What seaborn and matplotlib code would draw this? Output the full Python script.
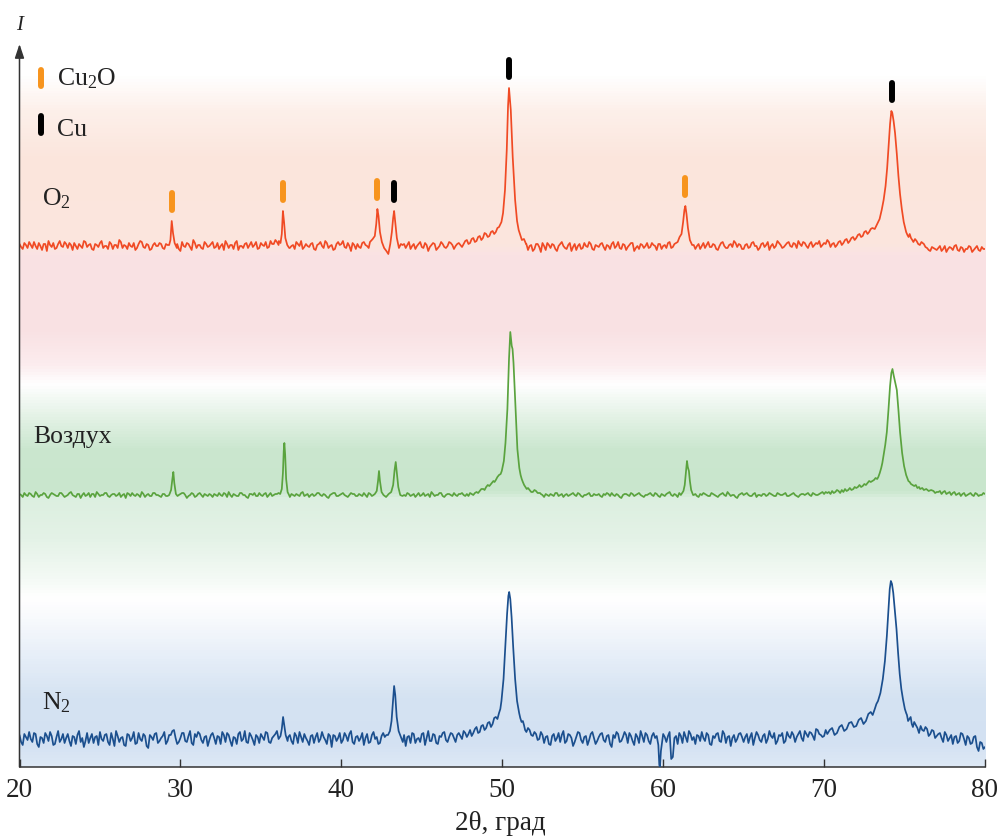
import numpy as np
import pandas as pd
import seaborn as sns
import matplotlib
matplotlib.use("Agg")
import matplotlib.pyplot as plt
from matplotlib.colors import LinearSegmentedColormap

# baseline noise (pixels above each trace's own baseline)
# *_NOISE: one value per 0.2 deg at 20.0, 20.2 ... 80.0
# *_NOISE_MID: the points in between, at 20.1, 20.3 ... 79.9
O2_NOISE = [
    2, -3, 1, 4, -2, 0, 3, -4, 2, 5, -1, -3, 2, 0, 4,
    -2, 1, 3, -3, 0, 5, -1, 2, -4, 1, 3, -2, 0, 4, -3,
    1, 6, -2, 0, 3, -1, -4, 2, 4, -2, 1, -3, 3, 0, 2,
    -3, 1, 4, -2, 2, -5, 0, 3, -1, 6, -2, 1, -3, 2, 0,
    4, -1, -3, 2, 5, -2, 1, 3, -4, 0, 2, -2, 4, 1, -3,
    3, 0, -2, 5, 2, 4, -1, 3, 6, -2, 1, 4, 0, -3, 2,
    -1, 3, -4, 2, 0, 5, -2, 1, -3, 4, 2, -1, 3, -5, 1,
    2, -2, 4, 0, -3, 3, 1, -1, 5, -2, 2, 0, -4, 3, 1,
    -2, 4, 0, -3, 2, -1, 3, -5, 1, 2, -2, 4, -1, 0, 3,
    -3, 2, 1, 5, -1, 4, 2, 6, 3, 1, 7, 4, 8, 5, 9,
    10, 20, 60, 30, 10, 4, -2, 3, -4, 1, -3, 2, -6, 0, 3,
    -2, 1, -5, 2, 0, -3, 3, -1, -4, 2, -2, 0, 4, -3, 1,
    -1, 3, -4, 0, 2, -2, 4, -3, 1, -1, 3, -5, 0, 2, -2,
    3, -1, 1, -4, 2, 0, -2, 4, -1, 3, 5, 20, 10, 2, -1,
    -3, 2, 0, -2, 4, -1, 1, -4, 3, 0, -2, 2, 5, -1, 1,
    -3, 2, -1, 4, 0, -2, 3, 1, -4, 2, 0, 3, -2, 1, 4,
    -1, 2, 5, 0, 3, -2, 4, 1, 2, -1, 3, 6, 2, 4, 3,
    5, 3, 7, 4, 8, 6, 10, 12, 9, 14, 18, 22, 30, 50, 80,
    120, 130, 80, 40, 15, 8, 3, 1, -2, -4, 0, -3, 1, -5, -2,
    -4, 0, -3, -6, -1, -4, 1, -5, -2, -3, 0, -6, -2, -4, -1,
    -3,
]
O2_NOISE_MID = [
    -1, 3, -2, 1, 4, -3, 0, 2, -5, 1, 3, -2, 5, -1, 2,
    3, -4, 0, 2, -2, 4, 1, -3, 2, -1, 5, 0, -3, 2, 1,
    -2, 4, 1, -3, 0, 3, -2, 5, -1, 2, -4, 1, 0, 3, -2,
    2, 0, 1, 3, -3, 4, -1, 2, -4, 3, 1, -2, 4, -1, 2,
    -2, 3, 0, -4, 2, 1, -3, 5, 0, -2, 3, 1, -1, 4, -2,
    1, 4, -1, 2, 6, 1, 3, -2, 2, 0, -3, 2, 5, -1, 0,
    2, -3, 1, 4, -2, 3, 0, -4, 2, 1, 5, -2, 0, 3, -3,
    -1, 3, 1, -2, 2, 4, -1, 3, 0, 2, -3, 1, 3, -2, 2,
    1, -3, 2, 0, 4, -2, 1, -1, 3, -4, 0, 2, -2, 4, 1,
    0, 3, -1, 4, 2, 6, 3, 8, 5, 7, 10, 9, 12, 11, 20,
    40, 120, 50, 15, 6, 1, -3, 2, 0, -5, 2, -1, 3, -4, 1,
    2, -3, 0, 4, -2, 1, -5, 2, 0, -3, 3, -1, 2, -4, 0,
    2, -1, 1, -3, 4, 0, -2, 2, -4, 1, 3, -2, -3, 1, 0,
    -2, 3, 0, 2, -3, 1, 3, -2, 2, 0, 8, 30, 25, 3, 1,
    0, -3, 3, 1, -1, 2, -3, 0, 4, -2, 1, -1, 3, 2, -3,
    1, -2, 3, 0, -4, 2, -1, 4, 0, -2, 5, 1, -1, 3, 0,
    3, -2, 2, 4, 0, 2, -1, 3, 5, 1, 2, 4, 1, 3, 5,
    4, 6, 5, 9, 7, 8, 11, 10, 13, 16, 20, 26, 40, 65, 100,
    128, 110, 60, 25, 10, 5, 2, -1, 0, -3, -2, 1, -4, -1, -3,
    -2, -5, 0, -3, -2, 0, -4, -1, -6, -3, -1, -4, 0, -5, -3,
]

AIR_NOISE = [
    1, -2, 0, 2, -1, 3, -2, 0, 1, -3, 2, 0, -1, 2, -2,
    0, 3, -1, 1, -3, 2, 0, -2, 1, 3, -1, 0, 2, -2, 1,
    -1, 2, 0, -3, 1, 2, -1, 0, 3, -2, 1, -1, 2, 0, -2,
    1, -1, 3, 0, -2, 1, 2, -3, 0, 1, -1, 2, -2, 0, 1,
    -2, 0, 2, -1, 1, 3, -2, 0, -1, 2, 0, -3, 1, 2, -1,
    0, 1, -2, 2, 0, 1, 3, -1, 2, -2, 0, 1, -1, 3, 0,
    -2, 1, 0, 2, -1, 0, -3, 1, 2, -1, 1, 0, -2, 2, 1,
    -1, 0, 2, -2, 1, 0, 3, 1, -1, 2, 0, -2, 1, 0, 2,
    -1, 1, 0, -2, 2, 0, -1, 1, 3, -1, 0, 2, -2, 1, 0,
    2, -1, 1, 0, 3, 2, 4, 3, 6, 8, 11, 14, 18, 20, 24,
    40, 150, 100, 30, 12, 6, 4, 3, 1, 2, -1, 0, 1, -2, 0,
    1, -1, 2, 0, -2, 1, 0, 2, -1, 1, -2, 0, 2, -1, 0,
    1, -2, 0, 1, 2, -1, 0, -3, 1, 0, 2, -1, 1, 0, -2,
    0, 2, -1, 1, -2, 0, 1, 3, -1, 0, 2, 20, 10, 0, -1,
    1, -2, 0, 1, -1, 2, 0, -2, 1, 0, 3, -1, 0, -3, 1,
    0, 2, -1, 1, -2, 0, 1, -1, 2, 0, -1, 1, 0, 2, -1,
    1, 0, -2, 1, 0, 2, -1, 1, 0, 2, 3, 2, 4, 3, 5,
    4, 6, 5, 7, 8, 9, 11, 13, 16, 20, 28, 40, 60, 90, 120,
    110, 125, 70, 30, 14, 10, 8, 6, 7, 5, 6, 4, 5, 3, 4,
    2, 4, 3, 1, 3, 2, 0, 2, 1, -1, 1, 0, 2, -1, 0,
    1,
]
AIR_NOISE_MID = [
    0, 2, -1, 1, -2, 1, 0, 2, -2, 0, 1, -1, 2, 0, -1,
    2, 0, -2, 1, 0, -1, 2, 1, -2, 1, 0, 2, -1, 0, 1,
    0, -2, 1, 2, -1, 0, 1, -2, 1, 0, -1, 2, 0, -1, 1,
    -1, 2, 1, -1, 0, 2, 0, -1, 2, -2, 1, 0, 1, -1, 0,
    1, -1, 0, 2, -2, 0, 1, -1, 2, 0, -2, 1, 0, -1, 2,
    -1, 2, 0, -1, 1, 2, -1, 1, 0, 1, -1, 0, 2, -1, 1,
    0, -1, 2, 0, 1, -2, 0, 2, -1, 0, 2, -1, 0, 1, -1,
    1, -1, 0, 2, -1, 1, 2, -1, 0, 1, -2, 0, 2, -1, 0,
    2, -1, 1, 0, -1, 2, 0, -2, 1, 0, 2, -1, 0, 1, -1,
    0, 1, 2, -1, 2, 3, 2, 5, 4, 7, 9, 12, 15, 19, 22,
    90, 160, 60, 18, 8, 5, 3, 2, 3, 0, 1, -1, 0, 1, -1,
    0, 2, -1, 1, 0, -1, 1, 0, 2, -1, 0, 1, -1, 1, 0,
    -1, 1, 2, -1, 0, 1, -2, 0, 1, -1, 1, 0, 2, -1, 0,
    1, 0, 2, -1, 1, -1, 2, 0, 1, -2, 0, 30, 2, 1, 0,
    -1, 1, 2, 0, -1, 1, -1, 0, 2, -1, 1, 0, -2, 0, 2,
    1, 0, -1, 2, 0, -1, 1, 0, 1, -1, 2, 0, 1, -1, 0,
    2, -1, 0, 1, 1, 0, 2, 0, 1, 3, 2, 3, 4, 4, 5,
    5, 6, 6, 8, 9, 10, 12, 15, 18, 24, 33, 50, 75, 105, 125,
    120, 100, 50, 20, 12, 9, 7, 6, 6, 5, 5, 4, 4, 3, 3,
    3, 1, 4, 2, 0, 3, 1, -1, 2, 0, 2, -1, 1, 0, 2,
]

N2_NOISE = [
    4, -6, 2, 7, -3, 5, -8, 1, 6, -2, 3, -5, 8, 0, -4,
    5, -7, 2, 4, -3, -8, 6, 1, -4, 3, 7, -2, 5, -6, 0,
    8, -3, 2, -7, 4, 1, -5, 6, -2, 3, -9, 2, 5, -4, 1,
    7, -2, 4, 9, -5, 1, 6, -3, 8, -6, 2, 5, -4, 3, -1,
    6, -5, 2, 7, -3, 4, -7, 1, 5, -2, 8, -4, 3, -6, 2,
    5, -1, 6, -4, 3, 8, -2, 0, 3, 4, -5, 3, 7, -3, 1,
    -6, 4, 2, -3, 7, -1, 5, -8, 3, 1, -4, 6, -2, 8, -5,
    3, 1, -6, 5, -3, 7, 2, -4, 6, 4, 12, 40, 30, 5, -2,
    -7, 3, 6, -4, 1, 5, -6, 8, -2, 4, -5, 2, 7, -3, 6,
    1, 4, -2, 5, 8, 3, 7, 10, 6, 12, 11, 15, 18, 16, 24,
    45, 140, 80, 30, 12, 7, 3, 6, -2, 4, -5, 2, 7, -4, 3,
    -6, 5, 1, -3, 8, -2, 4, -7, 2, 6, -4, 3, -1, 7, -5,
    2, 6, -3, 4, -8, 1, 5, -2, 7, -4, 3, -6, 2, 8, -3,
    4, -5, 6, -2, 1, 5, -3, 7, -18, 3, 6, -4, 2, 8, -1,
    -5, 3, 7, -2, 4, -6, 1, 6, -3, 5, 2, -7, 4, 0, 6,
    -3, 5, 2, -6, 7, -1, 3, -4, 8, 1, -5, 4, 6, -2, 3,
    7, -3, 5, 1, 8, 2, 6, -1, 9, 4, 3, 8, 5, 11, 7,
    12, 9, 15, 11, 18, 14, 20, 17, 24, 22, 28, 30, 38, 55, 95,
    140, 150, 110, 65, 40, 25, 20, 14, 16, 10, 12, 6, 9, 4, 7,
    2, 6, -3, 4, 1, -5, 3, -2, 5, -6, 1, -4, 3, -12, -4,
    -8,
]
N2_NOISE_MID = [
    -3, 5, -1, 0, 6, -5, 2, -4, 3, 7, -6, 2, -3, 5, 1,
    -2, 3, -5, 8, 1, -2, -4, 5, 2, -6, 0, 4, -3, 6, -7,
    3, 1, -6, 5, -2, 7, -4, 0, 5, -7, 4, -1, 6, -2, 3,
    -5, 4, 8, 1, -3, 6, -2, 3, -4, 5, 7, -1, 2, -7, 4,
    1, 3, -5, 4, 6, -2, 2, -5, 7, 0, -3, 6, -1, 4, -4,
    2, 7, -3, 1, 5, -1, 4, 3, 2, -2, 6, -4, 2, 5, -2,
    3, -4, 6, 0, 2, -5, 3, 4, -2, 6, -1, 3, 5, -3, 2,
    -2, 6, 1, -4, 4, 0, -5, 3, 2, 7, 25, 50, 10, -1, 4,
    2, -4, 5, 0, -3, 6, 1, -2, 5, -4, 3, 6, -1, 2, 5,
    -3, 6, 2, 4, 1, 9, 5, 8, 11, 9, 14, 13, 20, 19, 30,
    90, 120, 50, 18, 9, 4, 8, 1, 5, -3, 6, -1, 4, 2, -5,
    3, -2, 6, 4, -4, 5, 1, -3, 7, -1, 2, -6, 5, 1, -2,
    5, -1, 3, -5, 4, 7, -3, 2, 4, 6, -2, 5, -4, 3, 6,
    -2, 3, 1, 5, -8, 2, 3, -20, 1, -5, 3, 7, -3, 5, 2,
    4, -2, 1, 6, -5, 3, 5, -2, 8, -4, 3, 1, -3, 5, 2,
    2, -4, 6, 1, 4, -3, 5, 0, 3, 6, -2, 3, -4, 7, 1,
    4, 2, 8, -2, 5, 7, 3, 10, 5, 2, 9, 6, 12, 8, 13,
    10, 16, 12, 17, 15, 22, 18, 26, 25, 33, 34, 45, 70, 120, 145,
    155, 130, 85, 50, 30, 22, 17, 18, 12, 14, 8, 11, 6, 8, 3,
    5, 1, 7, -2, 4, 2, -4, 6, 0, 3, -5, 2, -8, -3, -10,
]

# peak profiles (2theta, height above baseline), replace the noise inside them
O2_PEAKS = [
    [(29.3, 1), (29.38, 6), (29.46, 25), (29.54, 13), (29.64, 3), (29.78, -2)],
    [(36.12, 5), (36.22, 3), (36.3, 12), (36.37, 35), (36.44, 24), (36.52, 8),
     (36.64, 1), (36.76, -2)],
    [(41.78, 4), (41.95, 7), (42.08, 10), (42.17, 22), (42.24, 37), (42.31, 30),
     (42.4, 14), (42.52, 4), (42.66, -2), (42.8, -5), (42.92, -8), (43.04, 2),
     (43.14, 14), (43.22, 28), (43.28, 35), (43.35, 24), (43.45, 8), (43.58, -2),
     (43.7, 2)],
    [(47.6, 2), (47.7, 5), (47.8, 6), (47.9, 2), (48.0, 3), (48.1, 7), (48.2, 8),
     (48.3, 4), (48.4, 5), (48.5, 9), (48.6, 10), (48.7, 6), (48.8, 8),
     (48.9, 13), (49.0, 12), (49.1, 9), (49.2, 10), (49.3, 14), (49.4, 15),
     (49.5, 12), (49.6, 14), (49.7, 18), (49.8, 19), (49.95, 24),
     (50.05, 33), (50.17, 56), (50.28, 96), (50.36, 140), (50.42, 158),
     (50.47, 148), (50.53, 136), (50.65, 89), (50.8, 46), (50.92, 25),
     (51.02, 16), (51.12, 11), (51.22, 6), (51.35, 7), (51.48, 2)],
    [(60.9, 4), (61.02, 9), (61.14, 12), (61.24, 24), (61.32, 36), (61.38, 40),
     (61.45, 32), (61.54, 18), (61.66, 6), (61.8, 1)],
    [(70.4, -1), (70.5, 2), (70.6, 3), (70.7, -1), (70.8, 1), (70.9, 4),
     (71.0, 5), (71.1, 1), (71.2, 3), (71.3, 6), (71.4, 7), (71.5, 3),
     (71.6, 5), (71.7, 8), (71.8, 9), (71.9, 6), (72.0, 8), (72.1, 11),
     (72.2, 12), (72.3, 9), (72.4, 10), (72.5, 14), (72.6, 15), (72.7, 12),
     (72.8, 14), (72.9, 17), (73.0, 18), (73.15, 17), (73.3, 22), (73.45, 27),
     (73.58, 36), (73.7, 46), (73.82, 60), (73.92, 78), (74.02, 102),
     (74.1, 122), (74.18, 135), (74.24, 133), (74.32, 125), (74.41, 113),
     (74.52, 92), (74.62, 70), (74.72, 52), (74.83, 37), (74.95, 24),
     (75.1, 14), (75.18, 11), (75.25, 9), (75.32, 12), (75.4, 8), (75.48, 6),
     (75.55, 4), (75.65, 7), (75.75, 5), (75.85, 2), (75.95, 1), (76.05, 4),
     (76.2, 2), (76.3, -1), (76.4, -2)],
]

AIR_PEAKS = [
    [(29.3, 0), (29.42, 5), (29.5, 16), (29.56, 23), (29.62, 12), (29.72, 1),
     (29.82, -1)],
    [(36.2, 1), (36.3, 6), (36.37, 22), (36.42, 44), (36.46, 52), (36.51, 40),
     (36.57, 16), (36.66, 3), (36.78, -1)],
    [(42.08, 1), (42.2, 4), (42.28, 14), (42.34, 24), (42.4, 14), (42.5, 3),
     (42.62, 0), (42.78, -2), (42.94, 1), (43.1, 3), (43.22, 10), (43.31, 25),
     (43.38, 33), (43.45, 22), (43.54, 8), (43.66, 0), (43.8, -1)],
    [(47.8, 1), (47.9, -1), (48.0, 2), (48.1, 1), (48.2, 0), (48.3, 2),
     (48.4, 3), (48.5, 2), (48.6, 4), (48.7, 6), (48.83, 6), (48.9, 5),
     (49.0, 8), (49.1, 10), (49.2, 9), (49.3, 11), (49.45, 14), (49.52, 13),
     (49.6, 15), (49.7, 18), (49.8, 20), (49.9, 21), (49.97, 24), (50.1, 34),
     (50.2, 52), (50.32, 86), (50.42, 136), (50.5, 163), (50.55, 155),
     (50.59, 149), (50.64, 146), (50.7, 132), (50.78, 103), (50.86, 72),
     (50.94, 46), (51.06, 27), (51.14, 20), (51.21, 16), (51.28, 13),
     (51.36, 10), (51.44, 8), (51.52, 6), (51.6, 7), (51.7, 5), (51.8, 3),
     (51.9, 3), (52.0, 5), (52.1, 4), (52.2, 2), (52.35, 2)],
    [(61.1, 0), (61.26, 4), (61.34, 10), (61.42, 24), (61.48, 34), (61.53, 28),
     (61.6, 24), (61.66, 14), (61.74, 5), (61.86, 0)],
    [(70.0, 1), (70.1, 3), (70.2, 2), (70.3, 3), (70.4, 1), (70.5, 4), (70.6, 2),
     (70.7, 3), (70.8, 5), (70.9, 4), (71.0, 2), (71.1, 5), (71.2, 3),
     (71.3, 6), (71.4, 4), (71.5, 5), (71.6, 7), (71.7, 5), (71.82, 6),
     (71.9, 8), (72.0, 7), (72.1, 8), (72.2, 10), (72.3, 8), (72.4, 9),
     (72.5, 11), (72.6, 10), (72.7, 12), (72.8, 14), (72.9, 13), (73.0, 14),
     (73.1, 15), (73.2, 17), (73.3, 16), (73.37, 18), (73.46, 22), (73.55, 27),
     (73.62, 32), (73.69, 39), (73.8, 50), (73.9, 63), (74.0, 85), (74.1, 109),
     (74.18, 122), (74.25, 126), (74.32, 120), (74.4, 114), (74.52, 105),
     (74.62, 85), (74.72, 63), (74.85, 42), (74.97, 29), (75.1, 20),
     (75.17, 17), (75.24, 14), (75.32, 13), (75.4, 11), (75.5, 10), (75.6, 9),
     (75.7, 10), (75.8, 7), (75.9, 8), (75.97, 6), (76.1, 7), (76.2, 5),
     (76.35, 6), (76.5, 4), (76.65, 5), (76.8, 4), (76.9, 2), (77.0, 3)],
]

N2_PEAKS = [
    [(36.1, 0), (36.22, 3), (36.3, 10), (36.38, 22), (36.45, 14), (36.54, 4),
     (36.66, -2)],
    [(42.9, 4), (43.02, 8), (43.12, 18), (43.2, 36), (43.28, 53), (43.35, 44),
     (43.44, 22), (43.56, 8), (43.7, 2), (43.82, -3)],
    [(47.4, 3), (47.5, 0), (47.6, 8), (47.7, 6), (47.8, 2), (47.9, 5), (48.0, 9),
     (48.1, 3), (48.2, 6), (48.3, 10), (48.4, 12), (48.5, 6), (48.6, 7),
     (48.7, 13), (48.8, 14), (48.9, 9), (49.0, 11), (49.1, 16), (49.2, 17),
     (49.3, 12), (49.4, 15), (49.5, 21), (49.6, 22), (49.7, 20), (49.8, 26),
     (49.88, 30), (49.95, 38), (50.08, 60), (50.2, 95), (50.3, 125),
     (50.38, 143), (50.43, 147), (50.5, 140), (50.58, 122), (50.68, 92),
     (50.8, 60), (50.92, 38), (51.05, 26), (51.12, 21), (51.2, 17),
     (51.28, 18), (51.35, 14), (51.42, 9), (51.5, 7), (51.6, 11), (51.7, 9),
     (51.8, 4), (51.9, 3), (52.0, 7), (52.1, 5), (52.2, -1), (52.3, 0)],
    [(59.6, 3), (59.7, -6), (59.76, -26), (59.8, -28), (59.86, -12), (59.94, -2)],
    [(70.2, 5), (70.35, 9), (70.5, 11), (70.65, 4), (70.8, 6), (70.95, 12),
     (71.1, 14), (71.25, 8), (71.4, 10), (71.55, 16), (71.7, 17), (71.85, 12),
     (72.0, 13), (72.15, 19), (72.3, 21), (72.45, 15), (72.6, 18), (72.75, 25),
     (72.9, 27), (73.02, 24), (73.15, 30), (73.25, 35), (73.35, 38),
     (73.5, 46), (73.65, 60), (73.78, 78), (73.9, 103), (74.0, 130),
     (74.08, 150), (74.15, 158), (74.22, 155), (74.3, 146), (74.4, 128),
     (74.5, 110), (74.6, 86), (74.7, 65), (74.8, 50), (74.9, 40), (75.02, 30),
     (75.1, 26), (75.15, 24), (75.22, 18), (75.3, 20), (75.38, 22),
     (75.45, 15), (75.52, 12), (75.6, 17), (75.7, 14), (75.8, 11), (75.9, 6),
     (76.0, 13), (76.1, 9), (76.2, 8), (76.3, 12), (76.4, 10), (76.5, 3),
     (76.6, 5), (76.7, 9), (76.8, 8), (76.9, 1), (77.0, 3)],
]

SAMPLES = ["O$_\\mathrm{2}$", "Воздух", "N$_\\mathrm{2}$"]
CU2O_LINES = [29.45, 36.37, 42.23, 61.38]
CU_LINES = [43.28, 50.43, 74.2]
X_TICKS = [20, 30, 40, 50, 60, 70, 80]

# stacking offsets and colours
OFFSETS = [521, 272, 28]
COLORS = ["#f04a24", "#5aa33e", "#1b4f8e"]
Y_TOP = 728

BG_STOPS = [
    (0, "#dde8f5"), (23, "#d3e1f2"), (68, "#d5e3f2"), (108, "#e6eef8"),
    (148, "#f8fafd"), (168, "#ffffff"), (188, "#f4faf5"), (228, "#e4f2e7"),
    (268, "#dcefe0"), (276, "#c9e6cd"), (318, "#cbe7cf"), (353, "#e6f3e8"),
    (383, "#ffffff"), (403, "#fcecee"), (438, "#f9e1e3"), (512, "#fae2e4"),
    (524, "#fbe6de"), (608, "#fbe5dc"), (658, "#fdf0ea"), (693, "#ffffff"),
    (728, "#ffffff"),
]


def build_trace(noise, noise_mid, peaks):
    assert len(noise) == 301 and len(noise_mid) == 300, (len(noise), len(noise_mid))
    grid = np.concatenate([np.linspace(20, 80, 301), np.linspace(20.1, 79.9, 300)])
    vals = list(noise) + list(noise_mid)
    pts = [(x, y) for x, y in zip(grid, vals)
           if not any(seg[0][0] - 1e-6 <= x <= seg[-1][0] + 1e-6 for seg in peaks)]
    for seg in peaks:
        pts.extend(seg)
    pts.sort()
    return pd.DataFrame(pts, columns=["two_theta", "intensity"])


sns.set_theme(style="white")
plt.rcParams["font.family"] = ["Liberation Serif", "DejaVu Serif"]
plt.rcParams["mathtext.fontset"] = "custom"
plt.rcParams["mathtext.rm"] = "Liberation Serif"
plt.rcParams["mathtext.it"] = "Liberation Serif:italic"

fig = plt.figure(figsize=(10.01, 8.37), dpi=100)
ax = fig.add_axes([19.5 / 1001, 1 - 768 / 837, 965.5 / 1001, Y_TOP / 837])

cmap = LinearSegmentedColormap.from_list(
    "bg", [(h / Y_TOP, c) for h, c in BG_STOPS])
col = cmap(np.linspace(0, 1, Y_TOP))[:, None, :]
ax.imshow(col, extent=[20, 80, 0, Y_TOP], aspect="auto", origin="lower", zorder=0)

traces = [build_trace(O2_NOISE, O2_NOISE_MID, O2_PEAKS),
          build_trace(AIR_NOISE, AIR_NOISE_MID, AIR_PEAKS),
          build_trace(N2_NOISE, N2_NOISE_MID, N2_PEAKS)]
for df, off, c in zip(traces, OFFSETS, COLORS):
    df = df.assign(intensity=df["intensity"] + off)
    sns.lineplot(data=df, x="two_theta", y="intensity", ax=ax, color=c,
                 lw=1.25, estimator=None, sort=False, legend=False, zorder=3)

# phase markers above the O2 peaks
o2 = traces[0]
for xs, c in [(CU2O_LINES, "#f7941d"), (CU_LINES, "black")]:
    for x0 in xs:
        near = o2[(o2["two_theta"] > x0 - 0.15) & (o2["two_theta"] < x0 + 0.15)]
        bottom = OFFSETS[0] + near["intensity"].max() + 8
        ax.plot([x0, x0], [bottom + 3, bottom + 20], color=c, lw=4.3,
                solid_capstyle="round", zorder=4)

# legend
ax.plot([21.34, 21.34], [681, 697], color="#f7941d", lw=4.3,
        solid_capstyle="round", clip_on=False)
ax.plot([21.34, 21.34], [634, 651], color="black", lw=4.3,
        solid_capstyle="round", clip_on=False)
ax.text(22.33, 683, "Cu$_\\mathrm{2}$O", fontsize=18.5, color="#222", va="baseline")
ax.text(22.33, 632, "Cu", fontsize=18.5, color="#222", va="baseline")

# sample labels
ax.text(21.4, 563, SAMPLES[0], fontsize=18.5, color="#222", va="baseline")
ax.text(20.84, 325, SAMPLES[1], fontsize=18.5, color="#222", va="baseline")
ax.text(21.4, 59, SAMPLES[2], fontsize=18.5, color="#222", va="baseline")

ax.set_xlim(20, 80)
ax.set_ylim(0, Y_TOP)
ax.set_xticks(X_TICKS)
ax.set_yticks([])
ax.set_xlabel("")
ax.set_ylabel("")
ax.tick_params(axis="x", direction="in", length=6, width=1, colors="#333",
               labelsize=19.5, pad=7, labelcolor="#222", bottom=True)
for s in ["top", "right", "left"]:
    ax.spines[s].set_visible(False)
ax.spines["bottom"].set_color("#333")
ax.spines["bottom"].set_linewidth(1.1)

ax.annotate("", xy=(20, 723), xytext=(20, 0),
            arrowprops=dict(arrowstyle="-|>,head_length=0.6,head_width=0.2",
                            color="#333", lw=1.1, mutation_scale=14,
                            shrinkA=0, shrinkB=0),
            annotation_clip=False, zorder=5)

fig.text(20 / 1001, 1 - 25 / 837, "I", style="italic", fontsize=15,
         ha="center", va="center", color="#222")
fig.text(500 / 1001, 1 - 824 / 837, "2θ, град", fontsize=19.5,
         ha="center", va="center", color="#222")

fig.savefig("out.png", dpi=100)
